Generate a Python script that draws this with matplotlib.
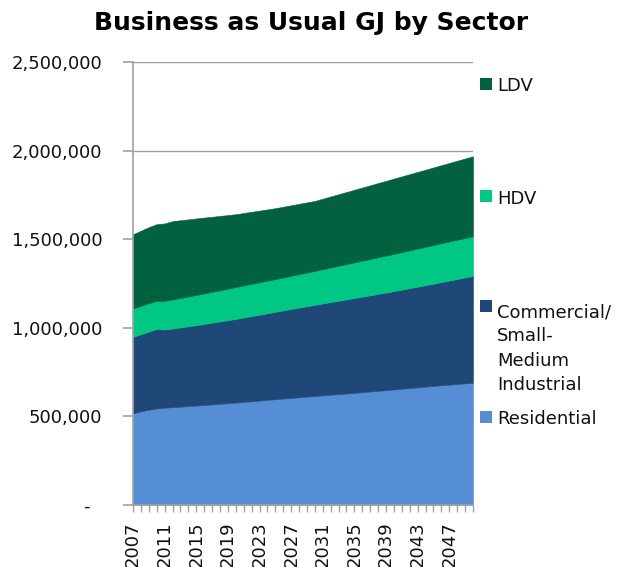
import matplotlib
matplotlib.use("Agg")
import matplotlib.pyplot as plt
from matplotlib.patches import Rectangle
from matplotlib.ticker import FuncFormatter, MultipleLocator, FixedLocator

# Energy use (GJ) by sector, business-as-usual projection
years = [2007, 2008, 2009, 2010, 2011, 2012, 2015, 2020, 2025, 2030, 2035, 2040, 2045, 2050]
residential = [517000, 528000, 538000, 545000, 549000, 552000, 561000, 578000,
               597000, 615000, 633000, 652000, 672000, 690000]
commercial = [432000, 436000, 441000, 448000, 441000, 444000, 454000, 472000,
              493000, 515000, 535000, 555000, 577000, 603000]
hdv = [160000, 160000, 160000, 159000, 162000, 164000, 170000, 180000,
       185000, 191000, 201000, 210000, 218000, 224000]
ldv = [419000, 424000, 429000, 433000, 437000, 442000, 432000, 411000,
       400000, 395000, 410000, 425000, 438000, 451000]

series_names = ["Residential", "Commercial/\nSmall-\nMedium\nIndustrial", "HDV", "LDV"]
series_colors = ["#558ed5", "#1f4778", "#00c884", "#02613e"]
label_years = list(range(2007, 2048, 4))
first_year, last_year = 2007, 2050

plt.rcParams["font.family"] = ["DejaVu Sans"]

fig = plt.figure(figsize=(6.22, 5.67), dpi=100)
ax = fig.add_axes([133 / 622, 1 - 505 / 567, 340 / 622, 443 / 567])

values = [residential, commercial, hdv, ldv]
polys = ax.stackplot(years, *values, colors=series_colors, zorder=2)
for p, c in zip(polys, series_colors):
    p.set_edgecolor(c)
    p.set_linewidth(0.4)

ax.set_xlim(first_year, last_year)
ax.set_ylim(0, 2500000)

axis_grey = "#a0a0a0"
ax.yaxis.set_major_locator(MultipleLocator(500000))
ax.yaxis.set_major_formatter(FuncFormatter(
    lambda v, pos: "-  " if v == 0 else f"{int(v):,}"))
ax.yaxis.grid(True, color=axis_grey, linewidth=1.0, zorder=0)
ax.set_axisbelow(True)

ax.xaxis.set_major_locator(FixedLocator(label_years))
ax.xaxis.set_minor_locator(MultipleLocator(1))
ax.set_xticklabels([str(y) for y in label_years], rotation=90)

for side in ("top", "right"):
    ax.spines[side].set_visible(False)
for side in ("left", "bottom"):
    ax.spines[side].set_color(axis_grey)
    ax.spines[side].set_linewidth(1.2)

ax.tick_params(axis="y", which="major", length=7, width=1.2, color=axis_grey,
               pad=15, labelsize=13, labelcolor="#111111")
ax.tick_params(axis="x", which="both", length=5, width=1.0, color=axis_grey,
               pad=7, labelsize=13, labelcolor="#111111")

fig.text(0.5, 1 - 23 / 567, "Business as Usual GJ by Sector", ha="center",
         va="center", fontsize=18, fontweight="bold", color="#000000")

# Legend entries down the right side: (marker centre, baseline of last text line)
legend_pos = [(416.5, 424), (306, 390), (195.5, 203.5), (83.5, 90.7)]
for name, color, (yc, yb) in zip(series_names, series_colors, legend_pos):
    fig.patches.append(Rectangle((480 / 622, 1 - (yc + 6) / 567), 12 / 622, 12 / 567,
                                 transform=fig.transFigure, facecolor=color,
                                 edgecolor="none"))
    fig.text(497 / 622, 1 - yb / 567, name, ha="left", va="baseline", fontsize=13,
             color="#111111", linespacing=1.45)

fig.savefig("out.png", dpi=100)
